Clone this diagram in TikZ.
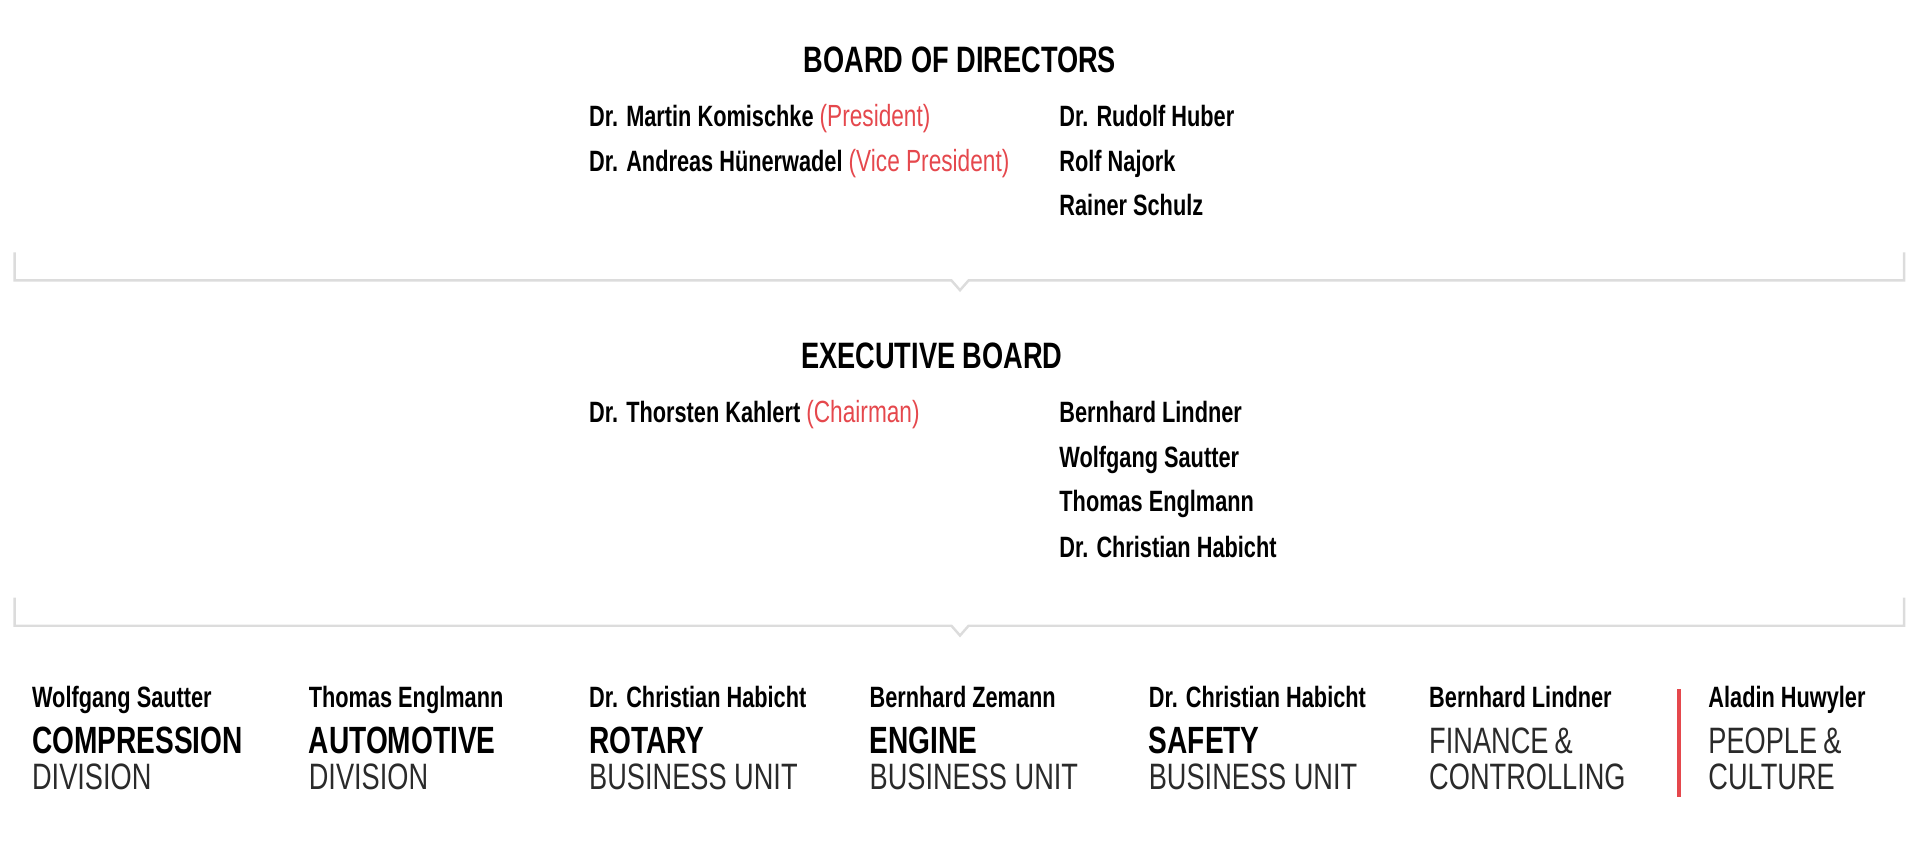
\documentclass[tikz,border=0pt]{standalone}
\usepackage{fontspec}
\setmainfont{Liberation Sans}[FakeStretch=0.74]
\usepackage{xcolor}
\usepackage{tikz}
\definecolor{accent}{HTML}{E5484D}
\definecolor{rulegray}{HTML}{DCDCDC}
\definecolor{thin}{HTML}{2A2A2A}
\tikzset{
  heading/.style={anchor=base, inner sep=0pt, font=\fontsize{30}{36}\selectfont\bfseries},
  member/.style={anchor=base west, inner sep=0pt, font=\fontsize{24}{29}\selectfont\bfseries},
  unitname/.style={anchor=base west, inner sep=0pt, font=\fontsize{31}{37}\selectfont\bfseries},
  unitkind/.style={anchor=base west, inner sep=0pt, text=thin, font=\fontsize{30}{36}\selectfont},
  bracket/.style={draw=rulegray, line width=2pt, line join=miter},
  divider/.style={draw=accent, line width=3pt}
}
\newcommand{\role}[1]{{\color{accent}\fontsize{25}{30}\selectfont\mdseries #1}}

\begin{document}
\begin{tikzpicture}[x=1pt, y=-1pt]
\useasboundingbox (0,0) rectangle (1568,702.3);
\node[heading] (bod) at (784,59) {BOARD OF DIRECTORS};
\node[member] (bod1) at (481,103) {Dr. Martin Komischke \role{(President)}};
\node[member] (bod2) at (481,140) {Dr. Andreas Hünerwadel \role{(Vice President)}};
\node[member] (bod3) at (865,103) {Dr. Rudolf Huber};
\node[member] (bod4) at (865,140) {Rolf Najork};
\node[member] (bod5) at (865,176) {Rainer Schulz};
\draw[bracket] (12,206) -- (12,229) -- (777,229) -- (784,237) -- (791,229) -- (1555,229) -- (1555,206);

\node[heading] (exb) at (761,301) {EXECUTIVE BOARD};
\node[member] (exb1) at (481,345) {Dr. Thorsten Kahlert \role{(Chairman)}};
\node[member] (exb2) at (865,345) {Bernhard Lindner};
\node[member] (exb3) at (865,382) {Wolfgang Sautter};
\node[member] (exb4) at (865,418) {Thomas Englmann};
\node[member] (exb5) at (865,455) {Dr. Christian Habicht};
\draw[bracket] (12,488) -- (12,511) -- (777,511) -- (784,519) -- (791,511) -- (1555,511) -- (1555,488);

\foreach \x/\who/\what/\kind [count=\i] in {26/Wolfgang Sautter/COMPRESSION/DIVISION,
    252/Thomas Englmann/AUTOMOTIVE/DIVISION, 481/Dr. Christian Habicht/ROTARY/BUSINESS UNIT,
    710/Bernhard Zemann/ENGINE/BUSINESS UNIT, 938/Dr. Christian Habicht/SAFETY/BUSINESS UNIT}
{
  \node[member] (head\i) at (\x,578) {\who};
  \node[unitname] (unit\i) at (\x,615) {\what};
  \node[unitkind] (kind\i) at (\x,645) {\kind};
}
\node[member] (head6) at (1167,578) {Bernhard Lindner};
\node[unitkind] (unit6) at (1167,615) {FINANCE\,\&};
\node[unitkind] (kind6) at (1167,645) {CONTROLLING};
\draw[divider] (1371,563) -- (1371,651);
\node[member] (head7) at (1395,578) {Aladin Huwyler};
\node[unitkind] (unit7) at (1395,615) {PEOPLE\,\&};
\node[unitkind] (kind7) at (1395,645) {CULTURE};
\end{tikzpicture}
\end{document}
